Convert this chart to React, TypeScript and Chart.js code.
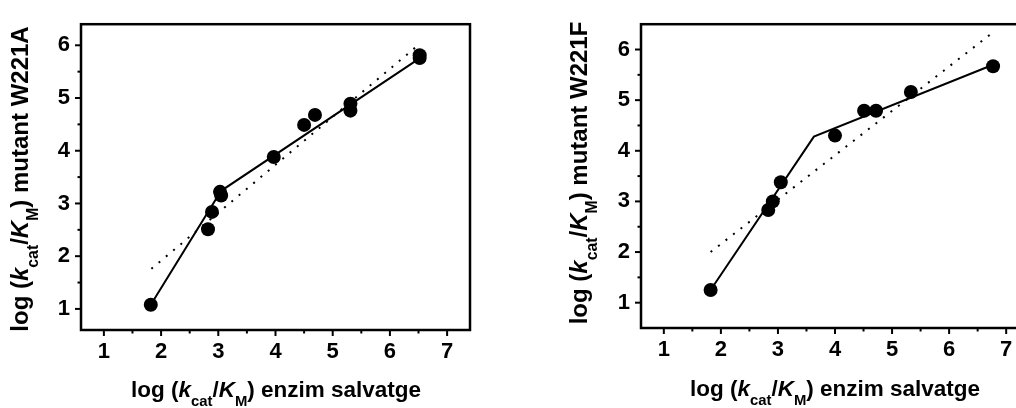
import React, { useEffect, useRef } from 'react';
import { Chart, registerables } from 'chart.js';

Chart.register(...registerables);

// ---------- data ----------
const X_TICKS = [1, 2, 3, 4, 5, 6, 7];
const A_Y_TICKS = [1, 2, 3, 4, 5, 6];
const F_Y_TICKS = [1, 2, 3, 4, 5, 6];

// W221A panel
const A_X = [1.82, 2.82, 2.89, 3.03, 3.05, 3.97, 4.5, 4.69, 5.31, 5.31, 6.52, 6.52];
const A_Y = [1.08, 2.51, 2.84, 3.22, 3.15, 3.88, 4.49, 4.68, 4.89, 4.76, 5.81, 5.76];
const A_FIT_X = [1.82, 3.05, 6.53];
const A_FIT_Y = [1.08, 3.24, 5.76];
const A_LIN_X = [1.83, 6.47];
const A_LIN_Y = [1.76, 5.98];

// W221F panel
const F_X = [1.82, 2.83, 2.91, 3.05, 4.0, 4.51, 4.72, 5.33, 6.77];
const F_Y = [1.25, 2.83, 3.0, 3.38, 4.3, 4.79, 4.79, 5.16, 5.67];
const F_FIT_X = [1.82, 3.63, 6.77];
const F_FIT_Y = [1.25, 4.28, 5.7];
const F_LIN_X = [1.82, 6.77];
const F_LIN_Y = [2.0, 6.34];

const X_TITLE_END = ') enzim salvatge';
const A_Y_TITLE_END = ') mutant W221A';
const F_Y_TITLE_END = ') mutant W221F';

const FAMILY = '"Liberation Sans", Arial, Helvetica, sans-serif';

type Seg = { t: string; it?: boolean; sub?: boolean };

function titleSegs(end: string): Seg[] {
  return [
    { t: 'log (' },
    { t: 'k', it: true },
    { t: 'cat', sub: true },
    { t: '/' },
    { t: 'K', it: true },
    { t: 'M', sub: true },
    { t: end },
  ];
}

function segFont(s: Seg, size: number) {
  const sz = s.sub ? size * 0.66 : size;
  return `${s.it ? 'italic ' : ''}bold ${sz}px ${FAMILY}`;
}

function drawRich(ctx: CanvasRenderingContext2D, segs: Seg[], size: number) {
  let total = 0;
  const widths = segs.map((s) => {
    ctx.font = segFont(s, size);
    const w = ctx.measureText(s.t).width;
    total += w;
    return w;
  });
  let x = -total / 2;
  ctx.fillStyle = '#000';
  ctx.textBaseline = 'alphabetic';
  ctx.textAlign = 'left';
  segs.forEach((s, i) => {
    ctx.font = segFont(s, size);
    ctx.fillText(s.t, x, s.sub ? size * 0.4 : 0);
    x += widths[i];
  });
}

const pts = (xs: number[], ys: number[]) => xs.map((x, i) => ({ x, y: ys[i] }));

type PanelCfg = {
  left: number;
  width: number;
  area: { left: number; top: number; right: number; bottom: number };
  xMin: number;
  xMax: number;
  yMin: number;
  yMax: number;
  yTicks: number[];
  points: { x: number; y: number }[];
  fit: { x: number; y: number }[];
  lin: { x: number; y: number }[];
  xTitleX: number;
  xTitleY: number;
  yTitleX: number;
  yTitleY: number;
  xTitleSize: number;
  yTitleSize: number;
  yEnd: string;
};

const HEIGHT = 408;

function Panel({ cfg }: { cfg: PanelCfg }) {
  const ref = useRef<HTMLCanvasElement>(null);
  useEffect(() => {
    if (!ref.current) return;
    const a = cfg.area;
    const frame = {
      id: 'frame',
      afterDatasetsDraw(chart: any) {
        const ctx = chart.ctx as CanvasRenderingContext2D;
        const ca = chart.chartArea;
        const xs = chart.scales.x;
        const ys = chart.scales.y;
        ctx.save();
        ctx.strokeStyle = '#000';
        ctx.lineWidth = 2.5;
        ctx.strokeRect(ca.left, ca.top, ca.right - ca.left, ca.bottom - ca.top);
        ctx.lineWidth = 2;
        // x ticks
        for (let v = X_TICKS[0]; v <= X_TICKS[X_TICKS.length - 1] + 1e-9; v += 0.5) {
          const major = Math.abs(v - Math.round(v)) < 1e-6;
          const px = xs.getPixelForValue(v);
          ctx.beginPath();
          ctx.moveTo(px, ca.bottom);
          ctx.lineTo(px, ca.bottom + (major ? 6 : 3.5));
          ctx.stroke();
        }
        // y ticks
        const yt = cfg.yTicks;
        for (let v = yt[0]; v <= yt[yt.length - 1] + 1e-9; v += 0.5) {
          const major = Math.abs(v - Math.round(v)) < 1e-6;
          const py = ys.getPixelForValue(v);
          ctx.beginPath();
          ctx.moveTo(ca.left, py);
          ctx.lineTo(ca.left - (major ? 6 : 3.5), py);
          ctx.stroke();
        }
        // x title
        ctx.save();
        ctx.translate(cfg.xTitleX, cfg.xTitleY);
        drawRich(ctx, titleSegs(X_TITLE_END), cfg.xTitleSize);
        ctx.restore();
        // y title
        ctx.save();
        ctx.translate(cfg.yTitleX, cfg.yTitleY);
        ctx.rotate(-Math.PI / 2);
        drawRich(ctx, titleSegs(cfg.yEnd), cfg.yTitleSize);
        ctx.restore();
        ctx.restore();
      },
    };
    const tickFont = { family: FAMILY, size: 22, weight: 'bold' as const };
    const chart = new Chart(ref.current, {
      type: 'scatter',
      data: {
        datasets: [
          {
            data: cfg.points,
            showLine: false,
            pointRadius: 7,
            pointBorderWidth: 0,
            backgroundColor: '#000',
            borderColor: '#000',
          },
          {
            data: cfg.fit,
            showLine: true,
            pointRadius: 0,
            borderColor: '#000',
            borderWidth: 2,
          },
          {
            data: cfg.lin,
            showLine: true,
            pointRadius: 0,
            borderColor: '#000',
            borderWidth: 2,
            borderDash: [2, 7.5],
          },
        ],
      },
      options: {
        animation: false,
        responsive: false,
        maintainAspectRatio: false,
        devicePixelRatio: 1,
        events: [],
        layout: {
          padding: { left: 0, top: a.top, right: cfg.width - a.right, bottom: 0 },
        },
        plugins: { legend: { display: false }, tooltip: { enabled: false } },
        scales: {
          x: {
            type: 'linear',
            min: cfg.xMin,
            max: cfg.xMax,
            afterBuildTicks: (s: any) => {
              s.ticks = X_TICKS.map((v) => ({ value: v }));
            },
            afterFit: (s: any) => {
              s.height = HEIGHT - a.bottom;
            },
            grid: { display: false, drawTicks: false },
            border: { display: false },
            ticks: { font: tickFont, color: '#000', padding: 9, maxRotation: 0 },
          },
          y: {
            type: 'linear',
            min: cfg.yMin,
            max: cfg.yMax,
            afterBuildTicks: (s: any) => {
              s.ticks = cfg.yTicks.map((v) => ({ value: v }));
            },
            afterFit: (s: any) => {
              s.width = a.left;
            },
            grid: { display: false, drawTicks: false },
            border: { display: false },
            ticks: { font: tickFont, color: '#000', padding: 11 },
          },
        },
      },
      plugins: [frame],
    });
    return () => chart.destroy();
  }, [cfg]);
  return (
    <canvas
      ref={ref}
      width={cfg.width}
      height={HEIGHT}
      style={{ position: 'absolute', left: cfg.left, top: 0, width: cfg.width, height: HEIGHT }}
    />
  );
}

const LEFT: PanelCfg = {
  left: 0,
  width: 500,
  area: { left: 81, top: 14, right: 470, bottom: 330 },
  xMin: 0.6,
  xMax: 7.4,
  yMin: 0.6,
  yMax: 6.4,
  yTicks: A_Y_TICKS,
  points: pts(A_X, A_Y),
  fit: pts(A_FIT_X, A_FIT_Y),
  lin: pts(A_LIN_X, A_LIN_Y),
  xTitleX: 276,
  xTitleY: 397,
  yTitleX: 28,
  yTitleY: 179,
  xTitleSize: 22.5,
  yTitleSize: 24,
  yEnd: A_Y_TITLE_END,
};

const RIGHT: PanelCfg = {
  left: 530,
  width: 530,
  area: { left: 111, top: 13, right: 499, bottom: 328 },
  xMin: 0.6,
  xMax: 7.4,
  yMin: 0.5,
  yMax: 6.5,
  yTicks: F_Y_TICKS,
  points: pts(F_X, F_Y),
  fit: pts(F_FIT_X, F_FIT_Y),
  lin: pts(F_LIN_X, F_LIN_Y),
  xTitleX: 835 - 530,
  xTitleY: 396,
  yTitleX: 587 - 530,
  yTitleY: 173,
  xTitleSize: 22.5,
  yTitleSize: 24,
  yEnd: F_Y_TITLE_END,
};

export default function App() {
  return (
    <div
      style={{
        position: 'fixed',
        left: 0,
        top: 0,
        width: 1016,
        height: 408,
        overflow: 'hidden',
        background: '#fff',
      }}
    >
      <Panel cfg={LEFT} />
      <Panel cfg={RIGHT} />
    </div>
  );
}
